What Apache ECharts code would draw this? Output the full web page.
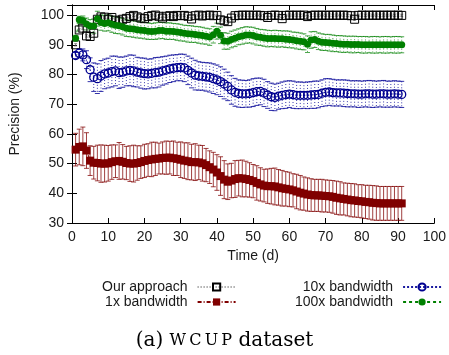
<!DOCTYPE html>
<html>
<head>
<meta charset="utf-8">
<script src="https://cdn.jsdelivr.net/npm/echarts@6/dist/echarts.min.js"></script>
<style>
  html, body { margin: 0; padding: 0; background: #fff; }
  #main { width: 449px; height: 355px; }
</style>
</head>
<body>
<div id="main"></div>
<script>
// days on the x axis
const days = [1,2,3,4,5,6,7,8,9,10,11,12,13,14,15,16,17,18,19,20,
  21,22,23,24,25,26,27,28,29,30,31,32,33,34,35,36,37,38,39,40,
  41,42,43,44,45,46,47,48,49,50,51,52,53,54,55,56,57,58,59,60,
  61,62,63,64,65,66,67,68,69,70,71,72,73,74,75,76,77,78,79,80,
  81,82,83,84,85,86,87,88,89,90,91];

// precision (%) per series
const ours = [90.0,95.0,95.6,93.0,92.8,93.9,98.6,99.4,99.3,98.6,
  99.2,98.3,98.0,98.6,98.9,99.5,99.9,99.4,99.0,98.8,
  99.5,99.8,100.0,99.6,99.0,99.6,99.8,99.5,99.9,99.8,
  99.9,99.6,98.7,99.8,100.0,99.7,99.9,100.0,99.8,99.9,
  98.4,98.1,97.8,99.0,99.8,99.9,100.0,99.9,100.0,99.9,
  100.0,99.9,99.8,99.2,99.9,100.0,99.9,98.8,99.9,100.0,
  99.9,100.0,99.9,100.0,99.5,99.9,100.0,99.9,100.0,99.9,
  100.0,99.9,100.0,99.9,100.0,99.9,99.8,98.6,99.9,100.0,
  99.9,100.0,99.9,100.0,99.9,100.0,99.9,100.0,99.9,100.0,99.9];
const oursErr = 0.4;

const bw1 = [54.7,55.6,55.8,54.4,51.0,50.3,50.2,50.0,50.0,50.1,
  50.5,50.8,50.9,50.6,50.2,50.0,50.0,50.2,50.5,50.9,
  51.2,51.4,51.6,51.7,51.9,52.0,52.0,51.8,51.6,51.3,
  51.0,50.8,50.5,50.5,50.4,50.1,49.5,48.8,48.0,47.0,
  45.8,44.6,43.9,44.3,44.8,45.1,45.0,44.8,44.5,44.1,
  43.5,43.0,42.6,42.4,42.4,42.3,42.0,41.7,41.5,41.3,
  41.0,40.6,40.2,39.9,39.6,39.4,39.3,39.3,39.2,39.1,
  39.0,38.8,38.5,38.3,38.1,37.9,37.7,37.6,37.4,37.3,
  37.1,37.0,36.8,36.7,36.6,36.6,36.6,36.6,36.6,36.6,36.6];
const bw1Err = [5.5,6.0,6.5,6.0,5.0,5.5,6.0,6.3,6.2,6.0,
  5.8,5.5,6.2,5.8,5.6,6.0,6.2,5.8,5.5,5.6,
  5.5,5.8,5.6,5.2,5.4,5.6,5.5,5.8,5.6,6.0,
  6.0,6.2,6.0,6.2,5.8,6.0,5.6,5.5,5.8,6.0,
  6.5,6.4,6.0,5.8,6.2,6.0,6.2,6.0,5.8,5.6,
  5.8,5.6,5.5,5.8,6.0,6.2,6.0,6.0,5.8,5.8,
  5.6,5.8,5.8,5.6,5.6,5.5,5.4,5.4,5.5,5.4,
  5.4,5.5,5.6,5.6,5.4,5.5,5.6,5.6,5.5,5.6,
  5.6,5.7,5.8,5.8,5.7,5.7,5.7,5.7,5.7,5.7,5.7];

const bw10 = [86.4,87.2,86.6,85.0,81.6,79.1,78.6,79.5,80.2,80.5,
  81.0,81.2,80.6,80.8,81.2,81.4,81.2,80.8,80.5,80.3,
  80.2,80.4,80.6,80.8,81.2,81.5,81.9,82.1,82.3,82.4,
  82.2,81.4,80.5,79.8,79.5,79.4,79.2,79.0,78.6,78.2,
  77.6,76.8,76.0,74.8,74.0,73.6,73.5,73.5,73.6,73.9,
  74.2,74.3,73.8,73.1,72.5,72.3,72.7,73.0,73.2,73.4,
  73.2,73.0,73.0,73.0,73.0,73.1,73.2,73.3,73.7,74.0,
  74.1,73.9,73.8,73.8,73.7,73.6,73.5,73.5,73.4,73.4,
  73.5,73.5,73.4,73.4,73.5,73.5,73.4,73.4,73.5,73.4,73.3];
const bw10Err = [1.0,1.5,2.0,3.0,4.0,4.8,5.0,5.2,5.0,5.0,
  5.2,5.0,5.3,5.1,5.0,5.2,5.3,5.0,5.1,5.2,
  5.0,4.9,5.1,5.0,4.8,4.7,4.6,4.5,4.4,4.5,
  4.6,4.8,5.0,5.0,4.8,4.7,4.8,4.9,5.0,5.0,
  5.0,5.0,4.8,4.8,4.7,4.6,4.6,4.5,4.6,4.7,
  4.6,4.5,4.6,4.5,4.6,4.5,4.4,4.5,4.6,4.5,
  4.6,4.5,4.5,4.4,4.5,4.5,4.6,4.5,4.5,4.6,
  4.5,4.5,4.4,4.4,4.5,4.5,4.4,4.4,4.5,4.4,
  4.4,4.5,4.5,4.4,4.4,4.5,4.4,4.4,4.4,4.4,4.4];

const bw100 = [92.2,98.4,98.2,97.0,96.3,96.3,98.8,97.5,97.2,97.4,
  96.9,96.6,96.4,96.1,95.6,95.4,95.3,95.1,94.9,94.8,
  94.6,94.5,94.6,94.8,94.8,94.6,94.6,94.5,94.3,94.1,
  93.9,93.7,93.6,93.5,93.3,93.1,92.9,92.6,93.4,94.6,
  93.2,91.3,91.2,91.8,92.2,92.7,93.0,93.3,93.3,93.1,
  92.7,92.5,92.3,92.1,92.1,92.1,92.0,92.0,91.9,91.8,
  91.6,91.4,91.2,91.0,90.2,91.6,91.8,91.2,90.9,90.8,
  90.7,90.5,90.4,90.3,90.2,90.2,90.1,90.1,90.1,90.0,
  90.0,90.0,90.0,90.0,90.0,90.0,90.0,90.0,90.0,90.0,90.0];
const bw100Err = [1.0,1.2,1.5,2.0,2.2,2.4,2.5,2.6,2.6,2.7,
  2.7,2.8,2.7,2.8,2.8,2.7,2.8,2.8,2.7,2.8,
  2.8,2.7,2.8,2.8,2.7,2.8,2.8,2.7,2.8,2.8,
  2.7,2.8,2.8,2.7,2.8,2.8,2.7,2.8,2.8,2.7,
  2.8,2.8,2.7,2.8,2.8,2.7,2.8,2.8,2.7,2.8,
  2.8,2.7,2.8,2.8,2.7,2.8,2.8,2.7,2.8,2.8,
  2.7,2.8,2.8,2.7,2.8,2.8,2.7,2.8,2.8,2.7,
  2.8,2.8,2.7,2.8,2.8,2.7,2.8,2.8,2.7,2.8,
  2.8,2.7,2.8,2.8,2.7,2.8,2.8,2.7,2.8,2.8,2.7];

const xTicks = [0,10,20,30,40,50,60,70,80,90,100];
const yTicks = [30,40,50,60,70,80,90,100];

const names = ['Our approach', '1x bandwidth', '10x bandwidth', '100x bandwidth'];

const chart = echarts.init(document.getElementById('main'));
const FONT = 'Liberation Sans';

function pts(vals) {
  return days.map((d, i) => [d, vals[i]]);
}
function errPts(vals, errs) {
  return days.map((d, i) => [d, vals[i], Array.isArray(errs) ? errs[i] : errs]);
}

// vertical error bar with small caps
function errRender(color, dash, cap) {
  return function (params, api) {
    const x = api.value(0), v = api.value(1), e = api.value(2);
    const hi = api.coord([x, v + e]);
    const lo = api.coord([x, v - e]);
    const style = { stroke: color, lineWidth: 1, lineDash: dash };
    return {
      type: 'group',
      children: [
        { type: 'line', shape: { x1: hi[0], y1: hi[1], x2: lo[0], y2: lo[1] }, style: style },
        { type: 'line', shape: { x1: hi[0] - cap, y1: hi[1], x2: hi[0] + cap, y2: hi[1] }, style: { stroke: color, lineWidth: 1 } },
        { type: 'line', shape: { x1: lo[0] - cap, y1: lo[1], x2: lo[0] + cap, y2: lo[1] }, style: { stroke: color, lineWidth: 1 } }
      ]
    };
  };
}

function errSeries(name, vals, errs, color, dash, cap) {
  return {
    name: name,
    type: 'custom',
    renderItem: errRender(color, dash, cap),
    data: errPts(vals, errs),
    encode: { x: 0, y: 1 },
    silent: true,
    animation: false
  };
}

const legendText = {
  fontFamily: FONT,
  fontSize: 14,
  color: '#1a1a1a',
  rich: { a: { width: 100, align: 'right', fontFamily: FONT, fontSize: 14, color: '#1a1a1a', padding: [0, 5, 0, 0] } }
};

const option = {
  animation: false,
  backgroundColor: '#fff',
  grid: { left: 70, right: 12, top: 5, bottom: 132 },
  xAxis: [
    {
      type: 'value', min: 0, max: 100, interval: 10,
      name: 'Time (d)', nameLocation: 'middle', nameGap: 21,
      nameTextStyle: { fontFamily: FONT, fontSize: 14, color: '#1a1a1a' },
      axisLine: { lineStyle: { color: '#000', width: 1 } },
      axisTick: { inside: true, length: 5, lineStyle: { color: '#000' } },
      axisLabel: { fontFamily: FONT, fontSize: 14, color: '#1a1a1a', margin: 7,
        formatter: v => (xTicks.indexOf(v) >= 0 ? String(v) : '') },
      splitLine: { show: false }
    },
    {
      type: 'value', min: 0, max: 100, interval: 10, position: 'top',
      axisLine: { lineStyle: { color: '#000', width: 1 } },
      axisTick: { inside: true, length: 5, lineStyle: { color: '#000' } },
      axisLabel: { show: false },
      splitLine: { show: false }
    }
  ],
  yAxis: [
    {
      type: 'value', min: 30, max: 103.4, interval: 10,
      name: 'Precision (%)', nameLocation: 'middle', nameGap: 50, nameRotate: 90,
      nameTextStyle: { fontFamily: FONT, fontSize: 14, color: '#1a1a1a' },
      axisLine: { show: true, lineStyle: { color: '#000', width: 1 } },
      axisTick: { show: true, inside: true, length: 5, lineStyle: { color: '#000' } },
      axisLabel: { fontFamily: FONT, fontSize: 14, color: '#1a1a1a', margin: 8,
        formatter: v => (yTicks.indexOf(v) >= 0 ? String(v) : '') },
      splitLine: { show: false }
    },
    {
      type: 'value', min: 30, max: 103.4, interval: 10, position: 'right',
      axisLine: { show: true, lineStyle: { color: '#000', width: 1 } },
      axisTick: { show: true, inside: true, length: 5, lineStyle: { color: '#000' } },
      axisLabel: { show: false },
      splitLine: { show: false }
    }
  ],
  legend: [
    {
      data: [names[0], names[1]],
      orient: 'vertical', left: 97, top: 275, itemGap: 1,
      itemWidth: 38, itemHeight: 9, align: 'right',
      formatter: '{a|{name}}', textStyle: legendText, selectedMode: false
    },
    {
      data: [names[2], names[3]],
      orient: 'vertical', left: 290, top: 275, itemGap: 1,
      itemWidth: 38, itemHeight: 9, align: 'right',
      formatter: '{a|{name}}', textStyle: legendText, selectedMode: false
    }
  ],
  graphic: [
    {
      type: 'text', left: 'center', top: 331,
      style: {
        text: '{p|(a) }{s|W\u2009C\u2009U\u2009P}{p| dataset}',
        rich: {
          p: { fontFamily: 'DejaVu Serif', fontSize: 20, color: '#111' },
          s: { fontFamily: 'DejaVu Serif', fontSize: 16, color: '#111' }
        }
      }
    }
  ],
  series: [
    errSeries('e0', ours, oursErr, 'rgba(80,80,80,0.6)', null, 1.5),
    {
      name: names[0], type: 'line', data: pts(ours),
      symbol: 'rect', symbolSize: 8,
      lineStyle: { color: '#888', width: 1, type: [1, 2] },
      itemStyle: { color: 'rgba(255,255,255,0)', borderColor: '#000', borderWidth: 1 }
    },
    errSeries('e1', bw1, bw1Err, 'rgba(128,0,0,0.75)', null, 2.5),
    {
      name: names[1], type: 'line', data: pts(bw1),
      symbol: 'rect', symbolSize: 8,
      lineStyle: { color: '#800000', width: 1, type: [4, 2, 1, 2] },
      itemStyle: { color: '#800000', borderColor: '#800000', borderWidth: 0 }
    },
    errSeries('e2', bw10, bw10Err, 'rgba(0,0,150,0.8)', [1, 2], 2.5),
    {
      name: names[2], type: 'line', data: pts(bw10),
      symbol: 'circle', symbolSize: 8,
      lineStyle: { color: '#1a1aa0', width: 1, type: [2, 2] },
      itemStyle: { color: 'rgba(255,255,255,0)', borderColor: '#000090', borderWidth: 1.3 }
    },
    errSeries('e3', bw100, bw100Err, 'rgba(0,128,0,0.7)', [1, 2], 2.5),
    {
      name: names[3], type: 'line', data: pts(bw100),
      symbol: 'circle', symbolSize: 7,
      lineStyle: { color: '#008000', width: 1, type: [3, 3] },
      itemStyle: { color: '#008000', borderColor: '#008000', borderWidth: 0 }
    }
  ]
};

chart.setOption(option);
</script>
</body>
</html>
